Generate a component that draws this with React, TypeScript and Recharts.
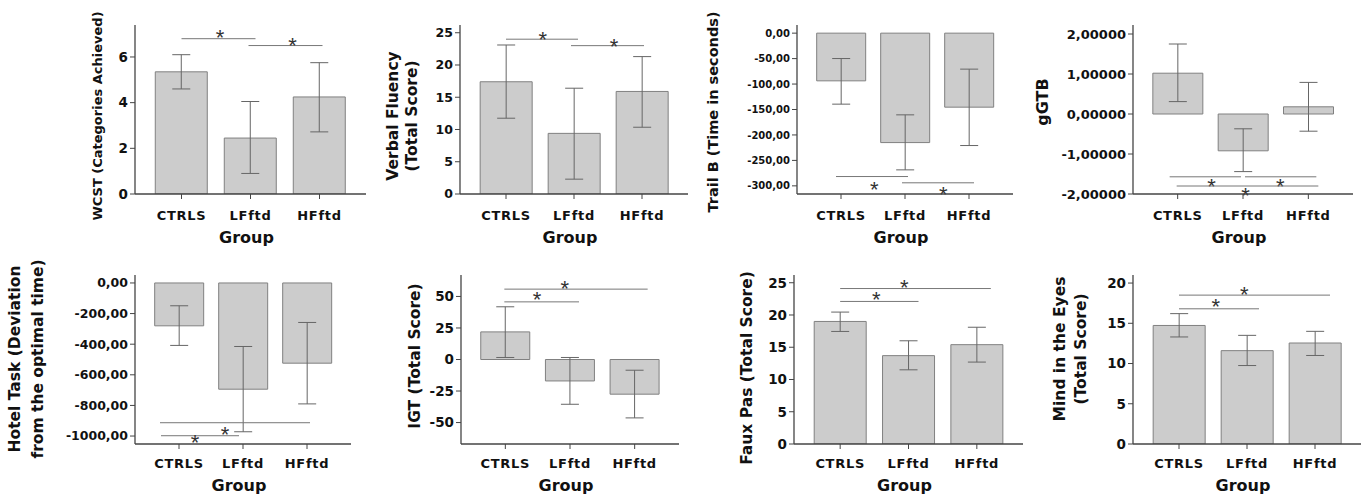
import React from 'react';
import { BarChart, Bar, XAxis, YAxis, ErrorBar, ReferenceLine } from 'recharts';

const groups = ['CTRLS', 'LFftd', 'HFftd'];

// bar means and error-bar ends
const wcstMean = [5.35, 2.45, 4.25];
const wcstLow = [4.6, 0.9, 2.72];
const wcstHigh = [6.1, 4.05, 5.75];

const fluencyMean = [17.4, 9.4, 15.9];
const fluencyLow = [11.75, 2.3, 10.35];
const fluencyHigh = [23.1, 16.4, 21.3];

const trailMean = [-93.7, -215, -145.4];
const trailLow = [-139.5, -268.6, -220.8];
const trailHigh = [-49.9, -160.5, -70.7];

const gtbMean = [1.02, -0.92, 0.18];
const gtbLow = [0.31, -1.44, -0.43];
const gtbHigh = [1.75, -0.37, 0.79];

const hotelMean = [-280, -694, -524];
const hotelLow = [-408, -972, -790];
const hotelHigh = [-149, -415, -258];

const igtMean = [21.9, -17, -27.5];
const igtLow = [1.6, -35.5, -46.3];
const igtHigh = [41.8, 1.6, -8.5];

const fauxMean = [19.0, 13.7, 15.4];
const fauxLow = [17.45, 11.5, 12.7];
const fauxHigh = [20.45, 16.0, 18.1];

const eyesMean = [14.73, 11.6, 12.55];
const eyesLow = [13.3, 9.75, 11.0];
const eyesHigh = [16.2, 13.5, 14.0];

// y-axis ticks
const wcstTicks = [0, 2, 4, 6];
const fluencyTicks = [0, 5, 10, 15, 20, 25];
const trailTicks = [0, -50, -100, -150, -200, -250, -300];
const gtbTicks = [2, 1, 0, -1, -2];
const hotelTicks = [0, -200, -400, -600, -800, -1000];
const igtTicks = [50, 25, 0, -25, -50];
const fauxTicks = [0, 5, 10, 15, 20, 25];
const eyesTicks = [0, 5, 10, 15, 20];

// significance brackets (group pair + height in data units)
type Sig = { from: string; to: string; y: number };
const wcstSig: Sig[] = [
  { from: 'CTRLS', to: 'LFftd', y: 6.8 },
  { from: 'LFftd', to: 'HFftd', y: 6.5 },
];
const fluencySig: Sig[] = [
  { from: 'CTRLS', to: 'LFftd', y: 24.0 },
  { from: 'LFftd', to: 'HFftd', y: 23.0 },
];
const trailSig: Sig[] = [
  { from: 'CTRLS', to: 'LFftd', y: -281.7 },
  { from: 'LFftd', to: 'HFftd', y: -294 },
];
const gtbSig: Sig[] = [
  { from: 'CTRLS', to: 'LFftd', y: -1.57 },
  { from: 'LFftd', to: 'HFftd', y: -1.57 },
  { from: 'CTRLS', to: 'HFftd', y: -1.8 },
];
const hotelSig: Sig[] = [
  { from: 'CTRLS', to: 'HFftd', y: -913 },
  { from: 'CTRLS', to: 'LFftd', y: -998 },
];
const igtSig: Sig[] = [
  { from: 'CTRLS', to: 'HFftd', y: 55.8 },
  { from: 'CTRLS', to: 'LFftd', y: 45.7 },
];
const fauxSig: Sig[] = [
  { from: 'CTRLS', to: 'HFftd', y: 24.1 },
  { from: 'CTRLS', to: 'LFftd', y: 22.1 },
];
const eyesSig: Sig[] = [
  { from: 'CTRLS', to: 'HFftd', y: 18.5 },
  { from: 'CTRLS', to: 'LFftd', y: 16.8 },
];

const FONT = '"DejaVu Sans", Verdana, sans-serif';

const fmtInt = (v: number) => String(v);
const fmt2 = (v: number) => v.toFixed(2).replace('.', ',');
const fmt5 = (v: number) => v.toFixed(5).replace('.', ',');

function GroupTick({ x, y, payload, dy }: any) {
  return (
    <text x={x} y={y + dy} textAnchor="middle" dominantBaseline="central" fontFamily={FONT} fontWeight="bold" fontSize={13} letterSpacing={0.7} fill="#111">
      {payload.value}
    </text>
  );
}

function GroupLabel({ viewBox, dy }: any) {
  if (!viewBox) return null;
  return (
    <text x={viewBox.x + viewBox.width / 2 - 4} y={viewBox.y + dy} textAnchor="middle" dominantBaseline="central" fontFamily={FONT} fontWeight="bold" fontSize={16} fill="#111">
      Group
    </text>
  );
}

function YLabel({ lines, cy, size }: any) {
  return (
    <g>
      {lines.map((l: any) => (
        <text key={l.text} x={l.x} y={cy} transform={`rotate(-90, ${l.x}, ${cy})`} textAnchor="middle" dominantBaseline="central" fontFamily={FONT} fontWeight="bold" fontSize={size} fill="#111">
          {l.text}
        </text>
      ))}
    </g>
  );
}

// bracket line, stretched a few px past the band centres as in the original
function SigLine({ x1, y1, x2, y2, ext }: any) {
  return <line x1={x1 + ext[0]} y1={y1} x2={x2 + ext[1]} y2={y2} stroke="#777" strokeWidth={1} />;
}

function Star({ viewBox, frac, dy }: any) {
  if (!viewBox) return null;
  const cx = viewBox.x + viewBox.width * frac;
  const cy = viewBox.y + dy;
  return (
    <text x={cx} y={cy + 12.5} textAnchor="middle" fontFamily='"Liberation Sans", Arial, sans-serif' fontSize={22} fill="#333">
      *
    </text>
  );
}

const panels = [
  {
    mean: wcstMean, low: wcstLow, high: wcstHigh, ticks: wcstTicks, domain: [0, 7.4], fmt: fmtInt, sig: wcstSig,
    marks: [{ frac: 0.56, dy: -6, ext: [0, 5] }, { frac: 0.61, dy: -5, ext: [-2, 3] }],
    box: { l: 135, t: 25, r: 366, b: 194 }, yW: 130, rowTop: 0, rowH: 250, tickFont: 13.5,
    yLabel: [{ text: 'WCST (Categories Achieved)', x: 97 }], yLabelY: 116, yLabelSize: 13, groupDy: 43,
  },
  {
    mean: fluencyMean, low: fluencyLow, high: fluencyHigh, ticks: fluencyTicks, domain: [0, 26.2], fmt: fmtInt, sig: fluencySig,
    marks: [{ frac: 0.54, dy: -4.5, ext: [0, 4] }, { frac: 0.59, dy: -4, ext: [-3, 2] }],
    box: { l: 460, t: 25, r: 688, b: 194 }, yW: 90, rowTop: 0, rowH: 250, tickFont: 12.5,
    yLabel: [{ text: 'Verbal Fluency', x: 393 }, { text: '(Total Score)', x: 412 }], yLabelY: 116, yLabelSize: 15.5, groupDy: 43,
  },
  {
    mean: trailMean, low: trailLow, high: trailHigh, ticks: trailTicks, domain: [-316, 16], fmt: fmt2, sig: trailSig,
    marks: [{ frac: 0.52, dy: 8, ext: [-5, 3] }, { frac: 0.6, dy: 7, ext: [-3, 5] }],
    box: { l: 797, t: 25, r: 1013, b: 194 }, yW: 105, rowTop: 0, rowH: 250, tickFont: 10,
    yLabel: [{ text: 'Trail B (Time in seconds)', x: 713 }], yLabelY: 112, yLabelSize: 14.5, groupDy: 43,
  },
  {
    mean: gtbMean, low: gtbLow, high: gtbHigh, ticks: gtbTicks, domain: [-2, 2.225], fmt: fmt5, sig: gtbSig,
    marks: [{ frac: 0.52, dy: 5, ext: [-8, -2] }, { frac: 0.57, dy: 5, ext: [2, 8] }, { frac: 0.52, dy: 4, ext: [-1, 10] }],
    box: { l: 1133, t: 25, r: 1353, b: 194 }, yW: 117, rowTop: 0, rowH: 250, tickFont: 13,
    yLabel: [{ text: 'gGTB', x: 1042 }], yLabelY: 102, yLabelSize: 16, groupDy: 43,
  },
  {
    mean: hotelMean, low: hotelLow, high: hotelHigh, ticks: hotelTicks, domain: [-1052, 52], fmt: fmt2, sig: hotelSig,
    marks: [{ frac: 0.36, dy: 7, ext: [-19, 3] }, { frac: 0.25, dy: 1.5, ext: [-18, -4] }],
    box: { l: 135, t: 275, r: 351, b: 444 }, yW: 135, rowTop: 250, rowH: 244, tickFont: 12.5,
    yLabel: [{ text: 'Hotel Task (Deviation', x: 15 }, { text: 'from the optimal time)', x: 38 }], yLabelY: 359, yLabelSize: 15.5, groupDy: 41,
  },
  {
    mean: igtMean, low: igtLow, high: igtHigh, ticks: igtTicks, domain: [-67, 67], fmt: fmtInt, sig: igtSig,
    marks: [{ frac: 0.46, dy: -6, ext: [-1, 13] }, { frac: 0.49, dy: -7, ext: [-1, 9] }],
    box: { l: 461, t: 275, r: 679, b: 444 }, yW: 106, rowTop: 250, rowH: 244, tickFont: 13.5,
    yLabel: [{ text: 'IGT (Total Score)', x: 415 }], yLabelY: 356, yLabelSize: 15.5, groupDy: 41,
  },
  {
    mean: fauxMean, low: fauxLow, high: fauxHigh, ticks: fauxTicks, domain: [0, 26.2], fmt: fmtInt, sig: fauxSig,
    marks: [{ frac: 0.47, dy: -6, ext: [0, 14] }, { frac: 0.53, dy: -7, ext: [0, 10] }],
    box: { l: 794, t: 275, r: 1023, b: 444 }, yW: 111, rowTop: 250, rowH: 244, tickFont: 13.5,
    yLabel: [{ text: 'Faux Pas (Total Score)', x: 747 }], yLabelY: 368, yLabelSize: 15.5, groupDy: 41,
  },
  {
    mean: eyesMean, low: eyesLow, high: eyesHigh, ticks: eyesTicks, domain: [0, 21], fmt: fmtInt, sig: eyesSig,
    marks: [{ frac: 0.48, dy: -6, ext: [0, 15] }, { frac: 0.54, dy: -7, ext: [0, 12] }],
    box: { l: 1133, t: 275, r: 1361, b: 444 }, yW: 106, rowTop: 250, rowH: 244, tickFont: 13.5,
    yLabel: [{ text: 'Mind in the Eyes', x: 1060 }, { text: '(Total Score)', x: 1081 }], yLabelY: 349, yLabelSize: 15.5, groupDy: 41,
  },
];

function Panel({ p }: any) {
  const data = groups.map((g, i) => ({
    group: g,
    mean: p.mean[i],
    err: [p.mean[i] - p.low[i], p.high[i] - p.mean[i]],
  }));
  const left = p.box.l - p.yW;
  const top = p.rowTop;
  const width = p.box.r - left + 4;
  const height = p.rowH;
  const xH = top + height - p.box.b;
  const labelLines = p.yLabel.map((l: any) => ({ text: l.text, x: l.x - left }));

  return (
    <div style={{ position: 'absolute', left, top, width, height }}>
      <BarChart width={width} height={height} data={data} margin={{ top: p.box.t - top, right: 4, bottom: 0, left: 0 }} barCategoryGap="12%">
        <XAxis
          dataKey="group"
          height={xH}
          padding={{ left: 12, right: 12 }}
          interval={0}
          axisLine={{ stroke: '#444', strokeWidth: 1.3 }}
          tickLine={{ stroke: '#444' }}
          tickSize={5}
          tick={<GroupTick dy={p.box.t > 100 ? 12 : 14} />}
          label={<GroupLabel dy={p.groupDy} />}
        />
        <XAxis xAxisId="frame" orientation="top" dataKey="group" height={0} tick={false} tickLine={false} axisLine={{ stroke: '#999' }} />
        <YAxis
          width={p.yW}
          domain={p.domain}
          ticks={p.ticks}
          interval={0}
          allowDataOverflow
          tickFormatter={p.fmt}
          axisLine={{ stroke: '#444', strokeWidth: 1.3 }}
          tickLine={{ stroke: '#444' }}
          tickSize={5}
          tick={{ fill: '#111', fontSize: p.tickFont, fontWeight: 'bold', fontFamily: FONT }}
          label={<YLabel lines={labelLines} cy={p.yLabelY - top} size={p.yLabelSize} />}
        />
        <YAxis yAxisId="frame" orientation="right" width={0} domain={[0, 1]} tick={false} tickLine={false} axisLine={{ stroke: '#999' }} />
        <Bar dataKey="mean" fill="#cccccc" stroke="#808080" strokeWidth={1} isAnimationActive={false}>
          <ErrorBar dataKey="err" width={9} stroke="#666" strokeWidth={1} direction="y" />
        </Bar>
        {p.sig.map((s: Sig, i: number) => (
          <ReferenceLine
            key={i}
            segment={[{ x: s.from, y: s.y }, { x: s.to, y: s.y }]}
            ifOverflow="visible"
            shape={<SigLine ext={p.marks[i].ext} />}
            label={<Star frac={p.marks[i].frac} dy={p.marks[i].dy} />}
          />
        ))}
      </BarChart>
    </div>
  );
}

export default function App() {
  return (
    <div style={{ position: 'absolute', left: 0, top: 0, width: 1367, height: 494, background: '#fff' }}>
      {panels.map((p, i) => (
        <Panel key={i} p={p} />
      ))}
    </div>
  );
}
